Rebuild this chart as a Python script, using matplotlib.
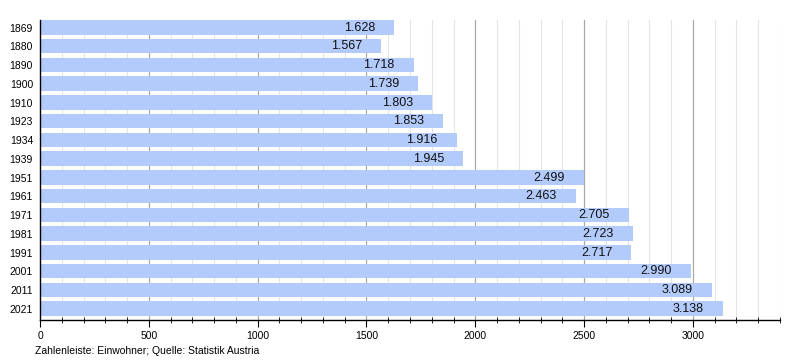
import matplotlib
matplotlib.use("Agg")
import matplotlib.pyplot as plt

years = ["1869", "1880", "1890", "1900", "1910", "1923", "1934", "1939",
         "1951", "1961", "1971", "1981", "1991", "2001", "2011", "2021"]
values = [1628, 1567, 1718, 1739, 1803, 1853, 1916, 1945,
          2499, 2463, 2705, 2723, 2717, 2990, 3089, 3138]
x_max = 3400

plt.rcParams['font.family'] = ['Liberation Sans', 'DejaVu Sans']

fig = plt.figure(figsize=(8, 3.6), dpi=100)
ax = fig.add_axes([0.05, 0.111, 0.925, 0.833])

# grid
for g in range(100, x_max + 1, 100):
    if g % 500 == 0:
        ax.axvline(g, color='#a8a8a8', lw=0.9, zorder=0)
    else:
        ax.axvline(g, color='#e4e4e4', lw=0.8, zorder=0)

ypos = list(range(len(years)))
ax.barh(ypos, values, height=0.77, align='edge', color='#b3cbfb', zorder=2)

def fmt(v):
    return f"{v:,}".replace(",", ".")

for y, v in zip(ypos, values):
    ax.text(v - 88, y + 0.4, fmt(v), ha='right', va='center',
            fontsize=9, color='#111111', zorder=3)

ax.set_xlim(0, x_max)
ax.set_ylim(len(years), 0)
ax.set_yticks([y + 0.4 for y in ypos])
ax.set_yticklabels(years, fontsize=7.5)
ax.tick_params(axis='y', length=0, pad=5)
ax.set_xticks(range(0, 3001, 500))
ax.set_xticklabels([str(t) for t in range(0, 3001, 500)], fontsize=7.5)
ax.set_xticks(range(0, x_max + 1, 100), minor=True)
ax.tick_params(axis='x', which='major', length=5, width=0.8, direction='out', pad=3)
ax.tick_params(axis='x', which='minor', length=4, width=0.6, direction='inout')
ax.tick_params(axis='x', which='both', bottom=True, top=False)
for s in ['top', 'right']:
    ax.spines[s].set_visible(False)
ax.spines['left'].set_linewidth(1.0)
ax.spines['bottom'].set_linewidth(1.0)

fig.text(35 / 800, 1 - 351 / 360, "Zahlenleiste: Einwohner; Quelle: Statistik Austria",
         fontsize=7.5, va='center', ha='left')

fig.savefig("out.png", dpi=100)
